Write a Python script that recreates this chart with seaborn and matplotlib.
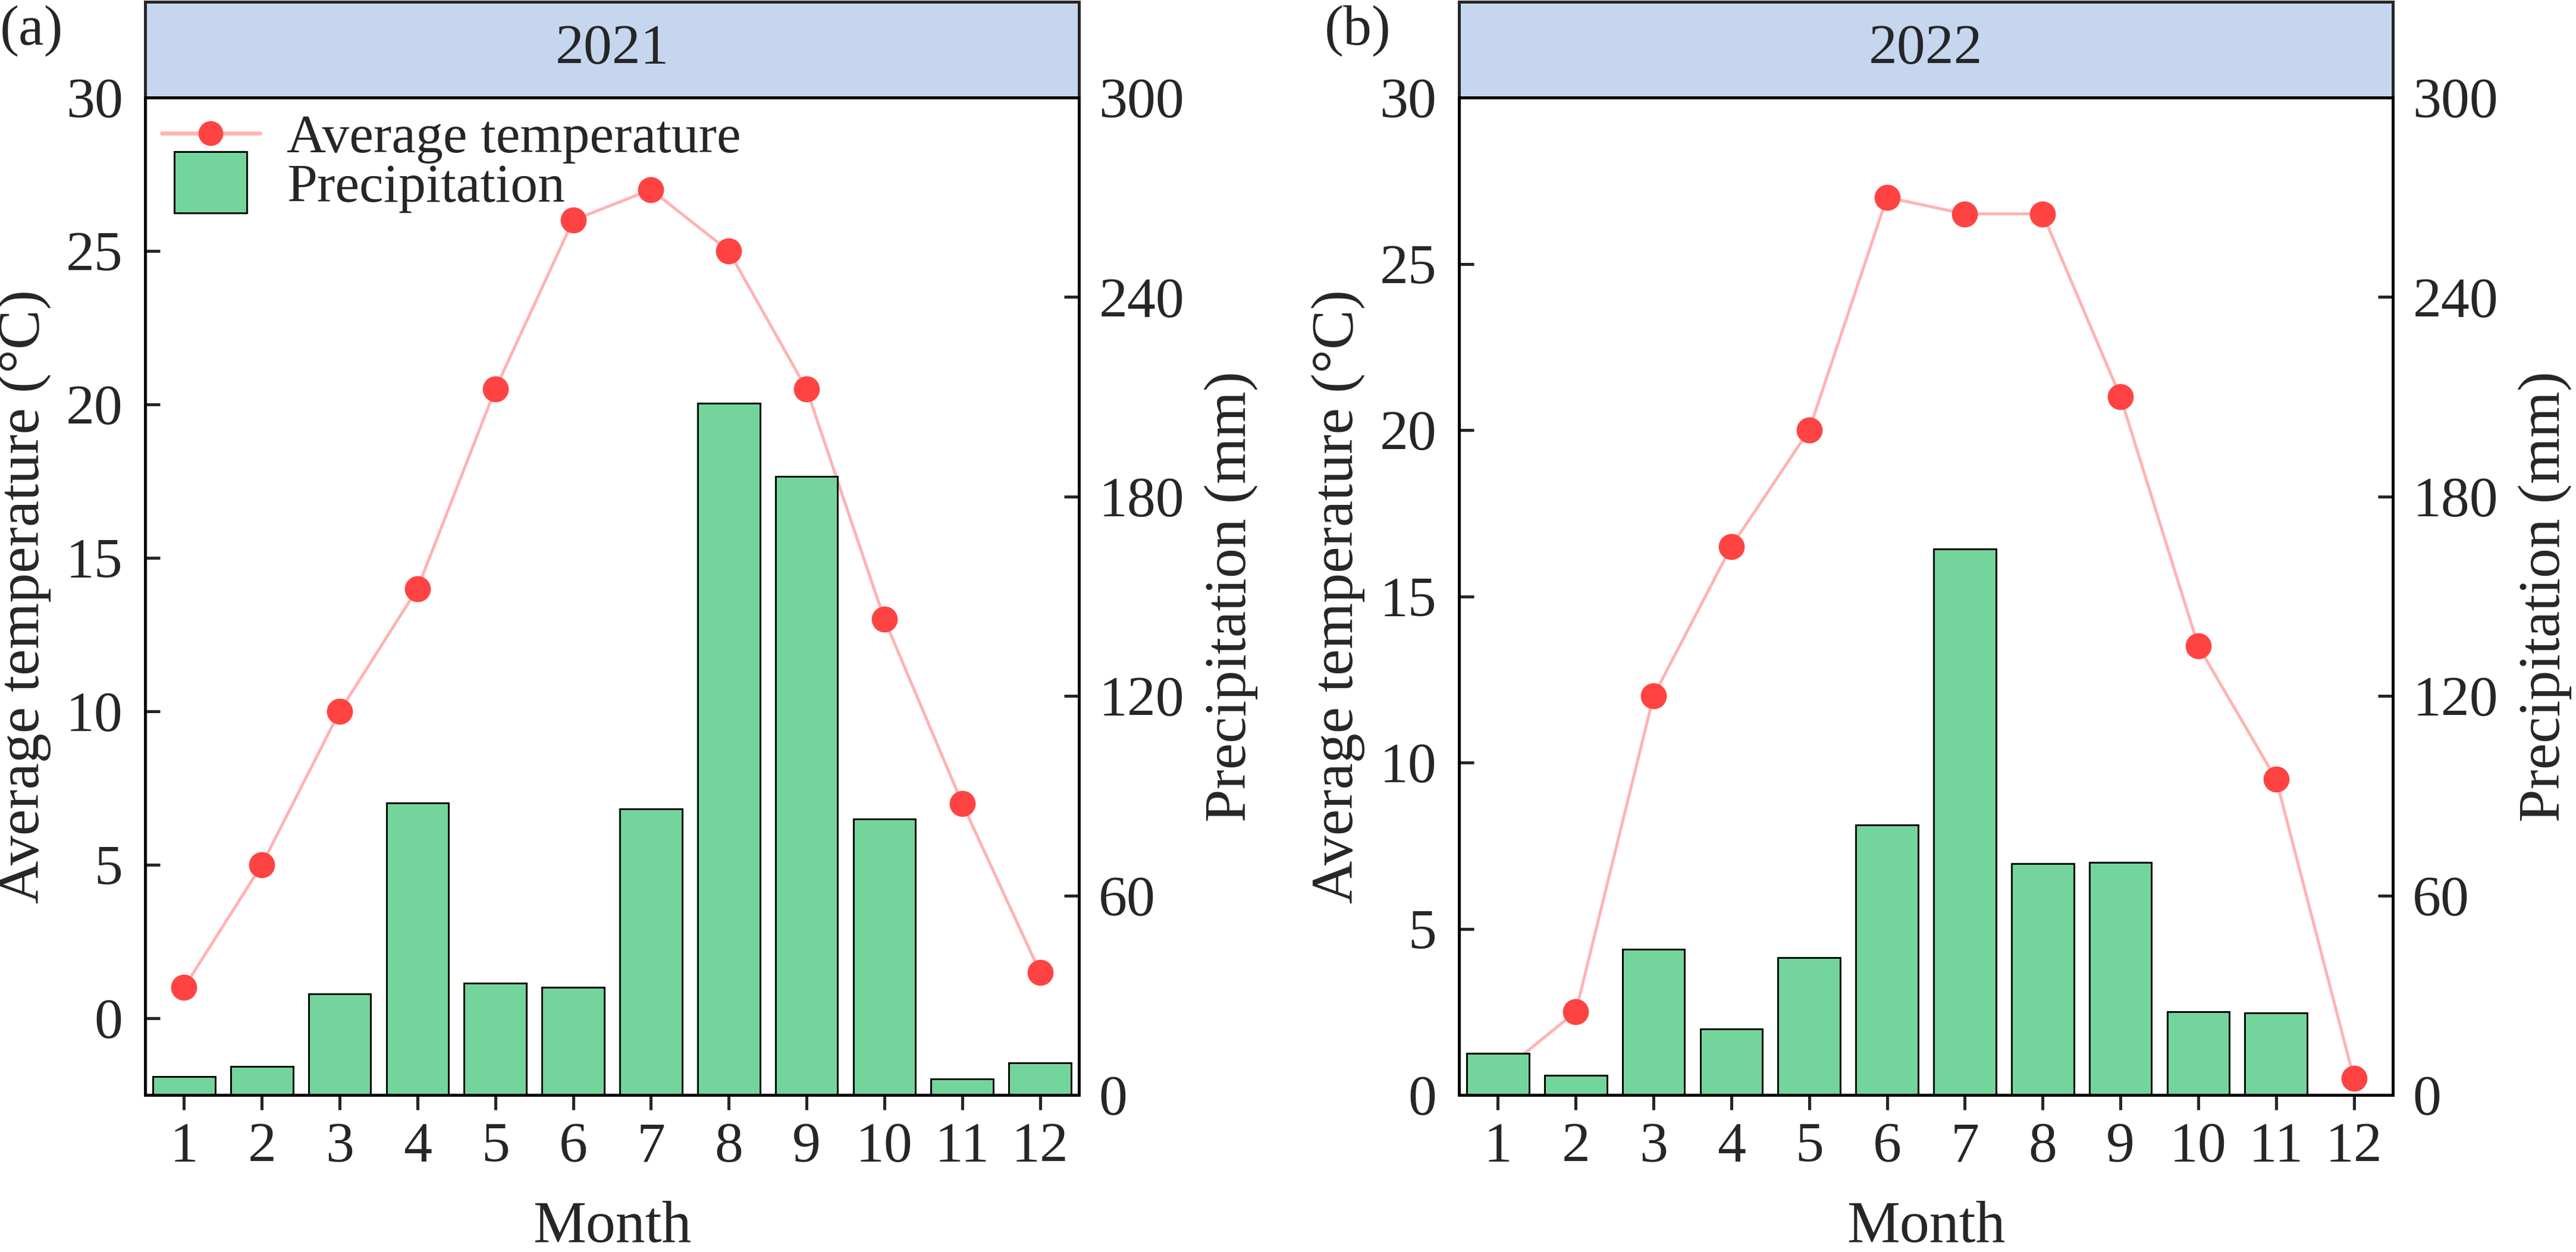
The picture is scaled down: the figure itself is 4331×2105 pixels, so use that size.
import numpy as np
import pandas as pd
import matplotlib
matplotlib.use("Agg")
import matplotlib.pyplot as plt
import matplotlib.patches as mpatches
from matplotlib.lines import Line2D
from matplotlib.legend_handler import HandlerPatch
import seaborn as sns

# monthly climate data
months = list(range(1, 13))
temp_2021 = [1.0, 5.0, 10.0, 14.0, 20.5, 26.0, 27.0, 25.0, 20.5, 13.0, 7.0, 1.5]
precip_2021 = [5.6, 8.5, 30.4, 87.8, 33.6, 32.3, 86.1, 208.0, 186.0, 83.0, 4.8, 9.6]
temp_2022 = [0.6, 2.5, 12.0, 16.5, 20.0, 27.0, 26.5, 26.5, 21.0, 13.5, 9.5, 0.5]
precip_2022 = [12.5, 5.9, 43.8, 19.8, 41.3, 81.3, 164.2, 69.5, 69.9, 25.1, 24.6, 0.0]
years = ["2021", "2022"]
panel_tags = ["(a)", "(b)"]

sns.set_style("ticks")
plt.rcParams["font.family"] = ["Liberation Serif", "DejaVu Serif"]

bar_color = "#74D59C"
line_color = "#FFB3B3"
dot_color = "#FF4343"
strip_color = "#C6D6EE"
lw = 1.2


def tall_box(legend, orig_handle, xdescent, ydescent, width, height, fontsize):
    # Origin-style legend box: narrower and taller than the default patch
    return mpatches.Rectangle((-xdescent + 0.13 * width, -ydescent - 0.3 * height),
                              0.74 * width, 1.6 * height)


def draw_panel(ax, strip_ax, temps, precip, year, tag_x, tag, temp_ylim, show_legend):
    df = pd.DataFrame({"Month": months, "Temp": temps, "Precip": precip})

    sns.lineplot(data=df, x="Month", y="Temp", ax=ax, color=line_color, lw=1.2,
                 marker="o", markersize=10.5, markerfacecolor=dot_color,
                 markeredgecolor=dot_color, markeredgewidth=0)

    ax2 = ax.twinx()
    sns.barplot(data=df, x="Month", y="Precip", ax=ax2, native_scale=True,
                color=bar_color, saturation=1, edgecolor="black", linewidth=0.7,
                width=0.8)

    ax.set_xlim(0.5, 12.5)
    ax2.set_xlim(0.5, 12.5)
    ax.set_ylim(*temp_ylim)
    ax2.set_ylim(0, 300)
    ax.set_xticks(months)
    ax.set_xticklabels([str(m) for m in months])
    ax.set_yticks(range(0, 31, 5))
    ax2.set_yticks(range(0, 301, 60))

    ax.set_xlabel("Month", fontsize=24, labelpad=11)
    ax.set_ylabel("Average temperature (°C)", fontsize=24, labelpad=6)
    ax2.set_ylabel("Precipitation (mm)", fontsize=24, labelpad=8)

    ax.tick_params(axis="x", direction="out", length=6, width=lw, labelsize=23, pad=5)
    ax.tick_params(axis="y", direction="in", length=6, width=lw, labelsize=23, pad=9)
    ax2.tick_params(axis="y", direction="in", length=6, width=lw, labelsize=23, pad=8)
    ax2.tick_params(axis="x", bottom=False, labelbottom=False)

    for a in (ax, ax2):
        for s in a.spines.values():
            s.set_linewidth(lw)
            s.set_color("black")

    # facet-style header strip
    strip_ax.set_facecolor(strip_color)
    strip_ax.set_xticks([])
    strip_ax.set_yticks([])
    for s in strip_ax.spines.values():
        s.set_linewidth(lw)
    strip_ax.text(0.5, 0.5, year, transform=strip_ax.transAxes,
                  ha="center", va="center", fontsize=23)

    fig.text(tag_x, 0.996, tag, ha="left", va="top", fontsize=23)

    if show_legend:
        handles = [
            Line2D([], [], color=line_color, lw=1.6, marker="o", markersize=10,
                   markerfacecolor=dot_color, markeredgewidth=0),
            mpatches.Patch(facecolor=bar_color, edgecolor="black", linewidth=0.7),
        ]
        ax2.legend(handles, ["Average temperature", "Precipitation"],
                   loc="upper left", bbox_to_anchor=(0.0, 1.0), frameon=False,
                   fontsize=22, handlelength=1.8, handleheight=0.7,
                   handletextpad=0.5, labelspacing=0.0, borderpad=0.3,
                   borderaxespad=0.0,
                   handler_map={mpatches.Patch: HandlerPatch(patch_func=tall_box)})
    return ax2


fig = plt.figure(figsize=(4331 / 300, 2105 / 300), dpi=300)

ax_w = 1570 / 4331
ax_b = 1 - 1841 / 2105
ax_h = (1841 - 164) / 2105
strip_b = 1 - 164 / 2105
strip_h = (164 - 3) / 2105
lefts = [244 / 4331, 2453 / 4331]
tag_xs = [0.0, 2227 / 4331]

panels = [(temp_2021, precip_2021, (-2.5, 30), True),
          (temp_2022, precip_2022, (0, 30), False)]

for i, (temps, precip, ylim, leg) in enumerate(panels):
    ax = fig.add_axes([lefts[i], ax_b, ax_w, ax_h])
    strip_ax = fig.add_axes([lefts[i], strip_b, ax_w, strip_h])
    draw_panel(ax, strip_ax, temps, precip, years[i], tag_xs[i], panel_tags[i], ylim, leg)

fig.savefig("out.png", dpi=300)
